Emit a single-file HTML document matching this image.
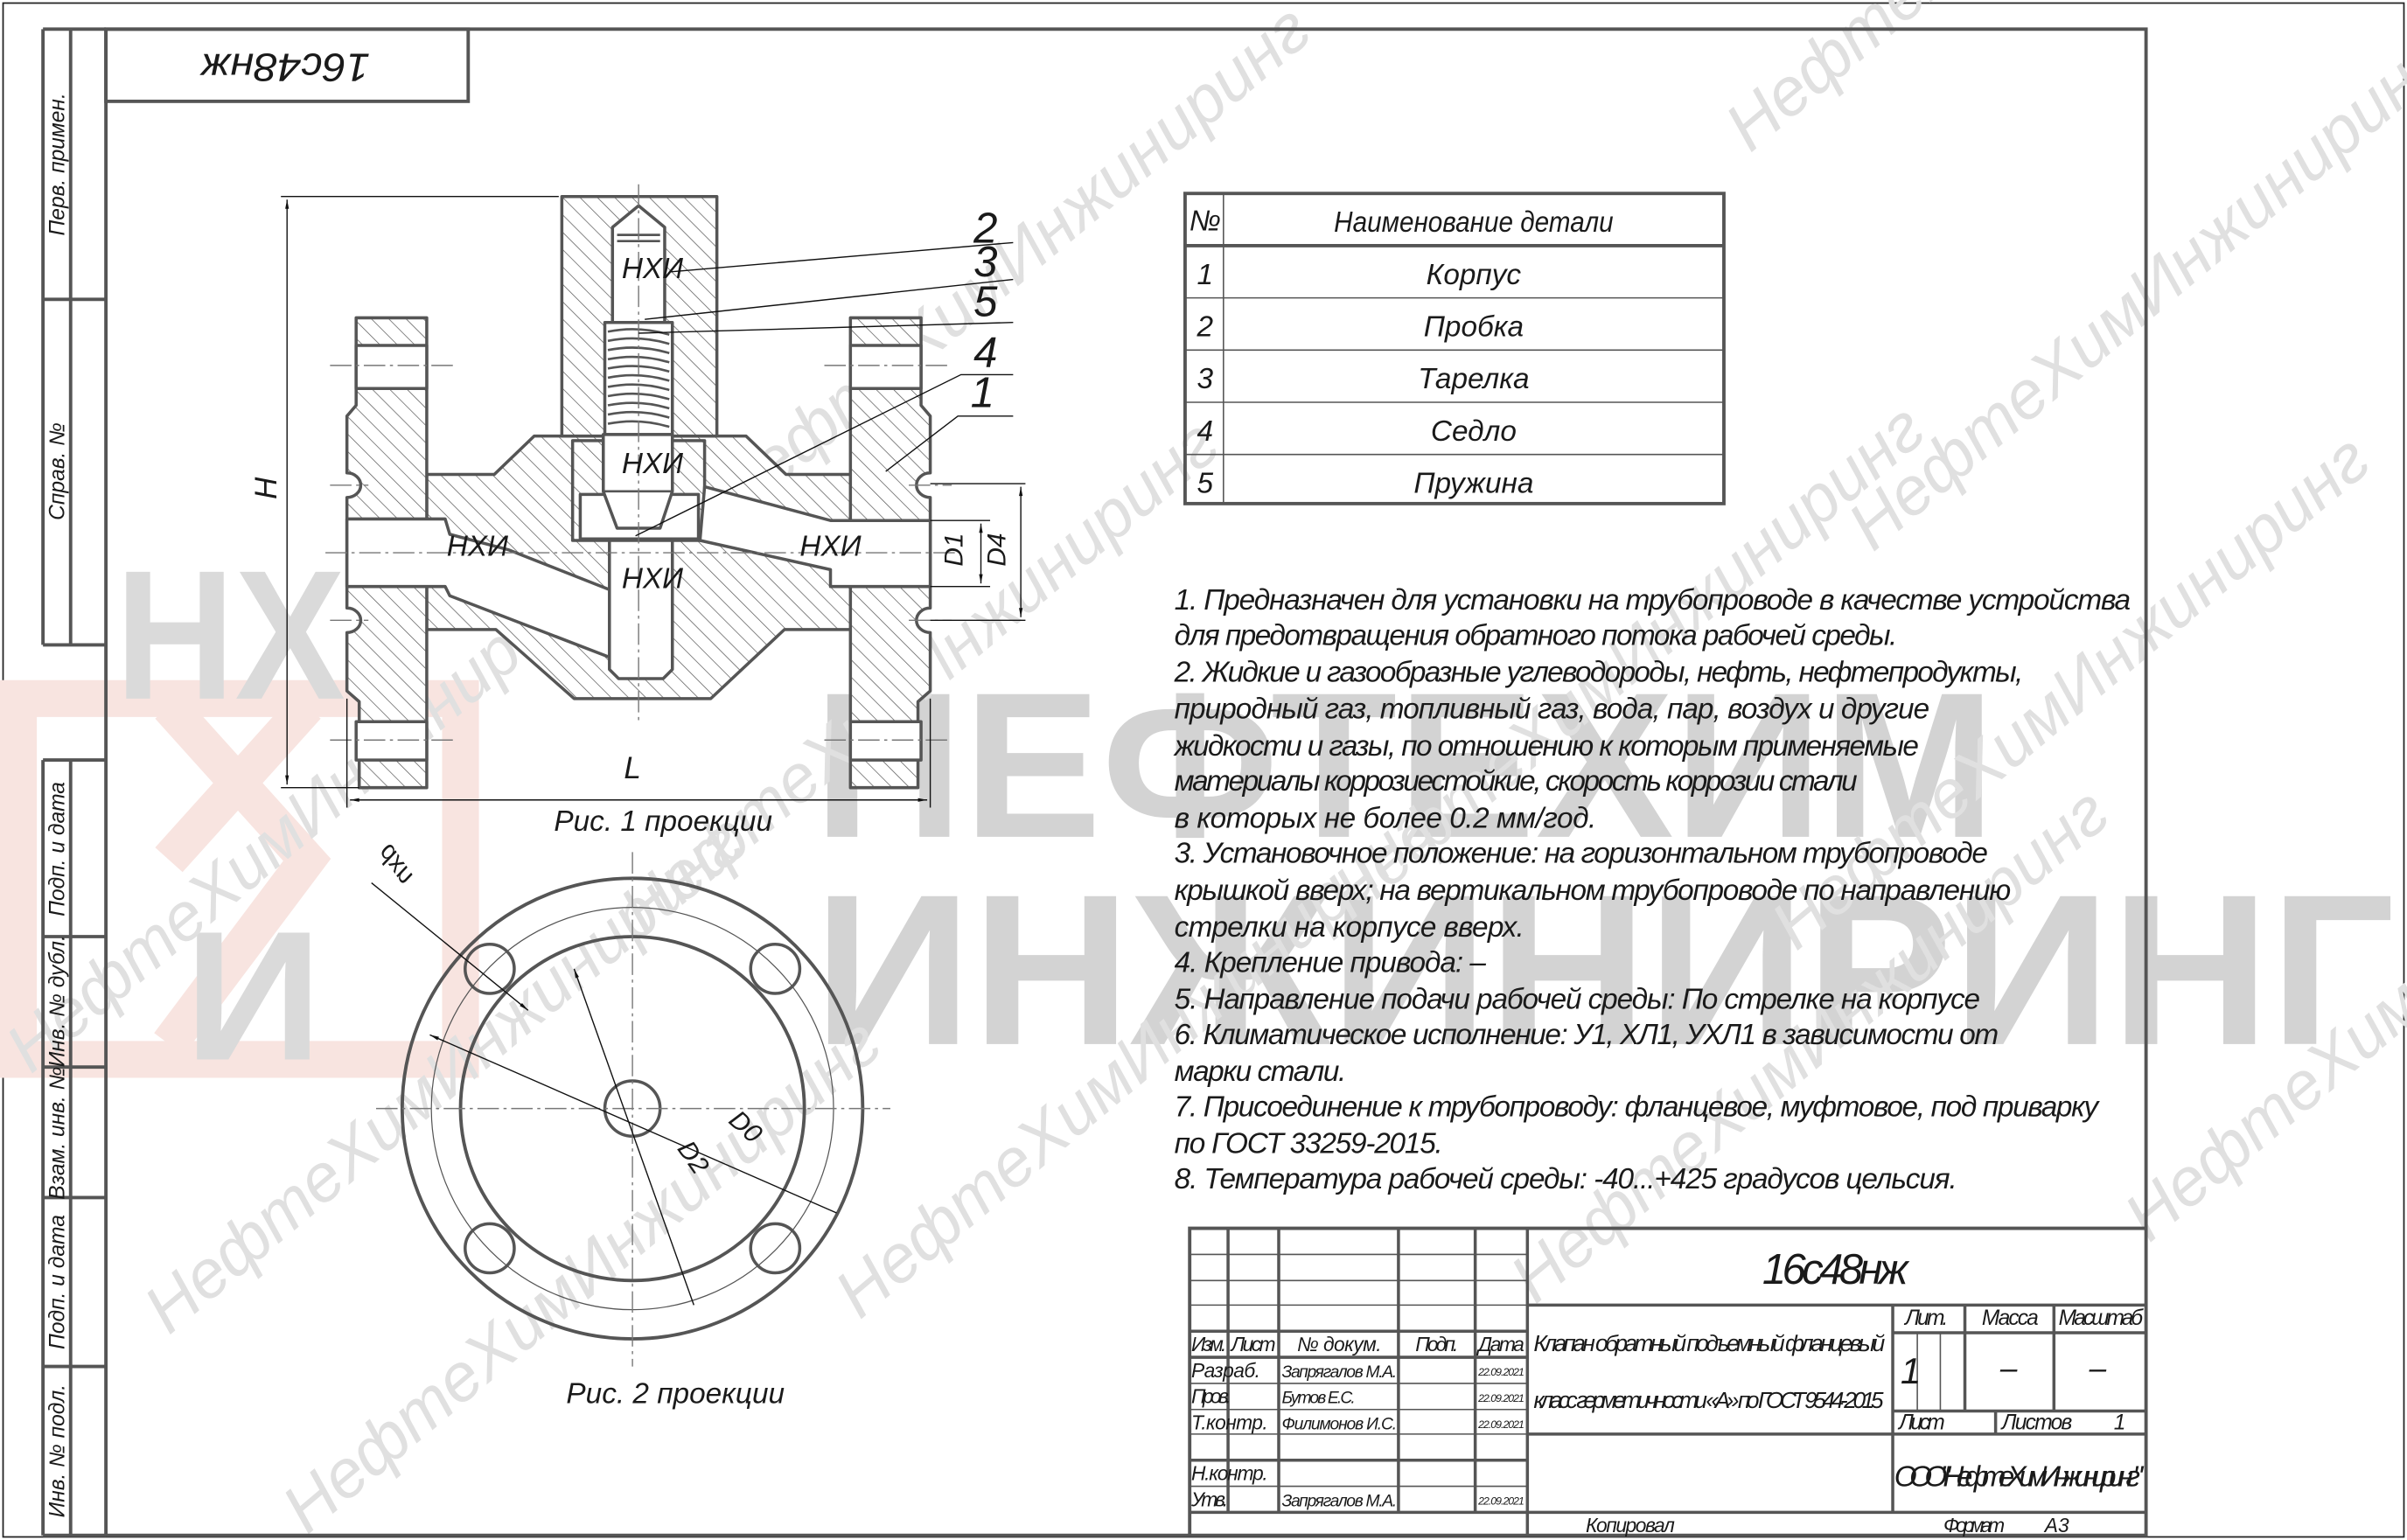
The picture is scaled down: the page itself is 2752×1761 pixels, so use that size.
<!DOCTYPE html>
<html><head><meta charset="utf-8"><style>
html,body{margin:0;padding:0;background:#fff;}
svg{display:block;}
text{font-family:"Liberation Sans","DejaVu Sans",sans-serif;font-style:italic;fill:#1a1a1a;}
.wm{fill:#e0e0e0;font-size:44px;font-style:italic;}
</style></head><body>
<svg width="2752" height="1761" viewBox="0 0 1568 1003" preserveAspectRatio="none" xmlns="http://www.w3.org/2000/svg">
<defs>
<pattern id="h" patternUnits="userSpaceOnUse" width="8" height="8" patternTransform="rotate(-45)">
<rect width="8" height="8" fill="#fff"/><line x1="0" y1="0" x2="0" y2="8" stroke="#555" stroke-width="0.8"/>
</pattern>
<marker id="a" viewBox="0 0 10 10" refX="10" refY="5" markerWidth="10" markerHeight="6" orient="auto-start-reverse" markerUnits="userSpaceOnUse"><path d="M0,3 L10,5 L0,7z" fill="#111"/></marker>
</defs>
<rect width="1568" height="1003" fill="#fff"/>
<rect x="2" y="2" width="1564" height="999" fill="none" stroke="#222" stroke-width="1"/>

<!-- big watermark logo -->
<g>
<text x="530" y="545" font-size="135" font-weight="bold" style="font-style:normal;fill:#d3d3d3" textLength="770" lengthAdjust="spacingAndGlyphs">НЕФТЕХИМ</text>
<text x="530" y="680" font-size="140" font-weight="bold" style="font-style:normal;fill:#d3d3d3" textLength="1030" lengthAdjust="spacingAndGlyphs">ИНЖИНИРИНГ</text>
<path d="M12,455 H300 V690 H12 Z" fill="none" stroke="#f8e4e0" stroke-width="24"/>
<path d="M110,460 L200,560 L110,680 M200,460 L110,560" fill="none" stroke="#f8e4e0" stroke-width="24"/>
<text x="75" y="455" font-size="120" font-weight="bold" style="font-style:normal;fill:#dadada" textLength="150" lengthAdjust="spacingAndGlyphs">НХ</text>
<text x="120" y="690" font-size="120" font-weight="bold" style="font-style:normal;fill:#dadada" textLength="90" lengthAdjust="spacingAndGlyphs">И</text>
</g>
<!-- diagonal watermarks -->
<g>
<text class="wm" transform="translate(110,870) rotate(-40)">НефтеХимИнжиниринг</text>
<text class="wm" transform="translate(20,700) rotate(-40)">НефтеХимИнжиниринг</text>
<text class="wm" transform="translate(420,610) rotate(-40)">НефтеХимИнжиниринг</text>
<text class="wm" transform="translate(480,340) rotate(-40)">НефтеХимИнжиниринг</text>
<text class="wm" transform="translate(200,1000) rotate(-40)">НефтеХимИнжиниринг</text>
<text class="wm" transform="translate(560,860) rotate(-40)">НефтеХимИнжиниринг</text>
<text class="wm" transform="translate(1000,850) rotate(-40)">НефтеХимИнжиниринг</text>
<text class="wm" transform="translate(1170,620) rotate(-40)">НефтеХимИнжиниринг</text>
<text class="wm" transform="translate(1220,360) rotate(-40)">НефтеХимИнжиниринг</text>
<text class="wm" transform="translate(1140,100) rotate(-40)">НефтеХимИнжиниринг</text>
<text class="wm" transform="translate(1400,810) rotate(-40)">НефтеХимИнжиниринг</text>
<text class="wm" transform="translate(880,600) rotate(-40)">НефтеХимИнжиниринг</text>
</g>

<!-- frame -->
<g stroke="#555" stroke-width="2.2" fill="none">
<path d="M69,19 H1398 V1000 H69 Z"/>
<path d="M28,19 V420 M46,19 V420 M28,19 H69 M28,195 H69 M28,420 H69"/>
<path d="M28,495 V1000 M46,495 V1000 M28,495 H69 M28,610 H69 M28,695 H69 M28,780 H69 M28,890 H69 M28,1000 H69"/>
<rect x="69" y="19" width="236" height="47"/>
</g>
<text transform="translate(186,42) rotate(180)" font-size="26" text-anchor="middle" dominant-baseline="middle" textLength="110" lengthAdjust="spacingAndGlyphs">16с48нж</text>
<g font-size="14" text-anchor="middle">
<text transform="translate(42,107) rotate(-90)">Перв. примен.</text>
<text transform="translate(42,307) rotate(-90)">Справ. №</text>
<text transform="translate(42,553) rotate(-90)">Подп. и дата</text>
<text transform="translate(42,652) rotate(-90)">Инв. № дубл.</text>
<text transform="translate(42,738) rotate(-90)">Взам. инв. №</text>
<text transform="translate(42,835) rotate(-90)">Подп. и дата</text>
<text transform="translate(42,945) rotate(-90)">Инв. № подл.</text>
</g>

<!-- VALVE SECTION -->
<g stroke="#555" stroke-width="2" fill="url(#h)" stroke-linejoin="round">
<path d="M278,309 H322 L348,284 H486 L512,309 H555 V410 H511 L463,455 H374 L323,410 H278 Z"/>
<path d="M366,128 H467 V284 H366 Z"/>
<path d="M232,207 H278 V513 H234 V457 L226,450 V412 A9,8 0 0 0 226,396 V324 A9,8 0 0 0 226,308 V271 L232,264 Z"/>
<path d="M600,207 H554 V513 H598 V457 L606,450 V412 A9,8 0 0 1 606,396 V324 A9,8 0 0 1 606,308 V271 L600,264 Z"/>
<path d="M373,287 H459 V352 H373 Z"/>
</g>
<g stroke="#555" stroke-width="2" fill="#fff" stroke-linejoin="round">
<rect x="232" y="225" width="46" height="28"/>
<rect x="554" y="225" width="46" height="28"/>
<rect x="232" y="470" width="46" height="25"/>
<rect x="554" y="470" width="46" height="25"/>
<path d="M226,338 H290 L293,348 L331,358 L397,384 V428 L293,388 L290,382 H226 Z"/>
<path d="M459,317 L541,339 H606 V382 H541 V371 L456,352 Z"/>
<rect x="378" y="322" width="77" height="29"/>
<path d="M397,352 H438 V436 L432,442 H403 L397,436 Z"/>
<path d="M399,148 L416,134 L433,148 V210 H399 Z"/>
<rect x="394" y="210" width="44" height="73"/>
<path d="M393,283 H438 V320 L430,344 H402 L393,320 Z"/>
</g>
<g stroke="#555" stroke-width="1.5" fill="none">
<path d="M402,153 H430 M402,157 H430"/>
<path d="M396,216 Q416,212 436,218 M396,222 Q416,218 436,224 M396,228 Q416,224 436,230 M396,234 Q416,230 436,236 M396,240 Q416,236 436,242 M396,246 Q416,242 436,248 M396,252 Q416,248 436,254 M396,258 Q416,254 436,260 M396,264 Q416,260 436,266 M396,270 Q416,266 436,272 M396,276 Q416,272 436,278"/>
<path d="M393,320 H438"/>
</g>
<g stroke="#777" stroke-width="0.8" stroke-dasharray="14,3,2,3" fill="none">
<path d="M416,120 V470"/>
<path d="M212,360 H625"/>
<path d="M215,238 H295 M537,238 H618 M215,482 H295 M537,482 H618"/>
<path d="M215,316 H240 M592,316 H620 M215,404 H240 M592,404 H620"/>
</g>
<g font-size="19" text-anchor="middle">
<text x="425" y="181">НХИ</text>
<text x="425" y="308">НХИ</text>
<text x="425" y="383">НХИ</text>
<text x="311" y="362">НХИ</text>
<text x="541" y="362">НХИ</text>
</g>
<g stroke="#111" stroke-width="0.8" fill="none">
<path d="M437,177 L660,158"/>
<path d="M420,208 L660,182"/>
<path d="M416,217 L660,210"/>
<path d="M414,349 L626,244 H660"/>
<path d="M577,307 L624,271 H660"/>
</g>
<g font-size="28" text-anchor="middle">
<text x="642" y="158">2</text>
<text x="642" y="180">3</text>
<text x="642" y="206">5</text>
<text x="642" y="239">4</text>
<text x="640" y="265">1</text>
</g>
<g stroke="#111" stroke-width="0.8" fill="none">
<path d="M183,128 H364 M183,513 H234 M606,315 H668 M606,339 H645 M606,382 H645 M606,404 H668 M226,455 V526 M606,455 V526"/>
<path d="M187,130 V511" marker-start="url(#a)" marker-end="url(#a)"/>
<path d="M228,521 H604" marker-start="url(#a)" marker-end="url(#a)"/>
<path d="M639,341 V380" marker-start="url(#a)" marker-end="url(#a)"/>
<path d="M665,317 V402" marker-start="url(#a)" marker-end="url(#a)"/>
</g>
<text transform="translate(180,318) rotate(-90)" font-size="20" text-anchor="middle">H</text>
<text x="412" y="507" font-size="20" text-anchor="middle">L</text>
<text transform="translate(627,358) rotate(-90)" font-size="17" text-anchor="middle">D1</text>
<text transform="translate(655,358) rotate(-90)" font-size="17" text-anchor="middle">D4</text>
<text x="432" y="541" font-size="19" text-anchor="middle">Рис. 1 проекции</text>

<!-- FLANGE VIEW -->
<g stroke="#555" fill="none">
<circle cx="412" cy="722" r="150" stroke-width="2.2"/>
<circle cx="412" cy="722" r="131" stroke-width="0.7"/>
<circle cx="412" cy="722" r="112" stroke-width="2.2"/>
<circle cx="412" cy="722" r="18" stroke-width="2"/>
<circle cx="319" cy="631" r="16" stroke-width="2"/>
<circle cx="505" cy="631" r="16" stroke-width="2"/>
<circle cx="319" cy="813" r="16" stroke-width="2"/>
<circle cx="505" cy="813" r="16" stroke-width="2"/>
</g>
<g stroke="#777" stroke-width="0.8" stroke-dasharray="14,3,2,3">
<path d="M245,722 H580 M412,555 V890"/>
</g>
<g stroke="#111" stroke-width="0.8" fill="none">
<path d="M242,575 L344,658" marker-end="url(#a)"/>
<path d="M280,674 L545,790" marker-start="url(#a)"/>
<path d="M374,631 L452,850" marker-start="url(#a)"/>
</g>
<text transform="translate(262,560) rotate(-125) scale(-1,1)" font-size="17" text-anchor="middle">dxn</text>
<text transform="translate(482,738) rotate(42)" font-size="17" text-anchor="middle">D0</text>
<text transform="translate(447,757) rotate(55)" font-size="17" text-anchor="middle">D2</text>
<text x="440" y="914" font-size="19" text-anchor="middle">Рис. 2 проекции</text>

<!-- PARTS TABLE -->
<g stroke="#555" fill="none">
<rect x="772" y="126" width="351" height="202" stroke-width="2.2"/>
<path d="M772,160 H1123" stroke-width="2.2"/>
<path d="M797,126 V328 M772,194 H1123 M772,228 H1123 M772,262 H1123 M772,296 H1123" stroke-width="0.9"/>
</g>
<g font-size="19" text-anchor="middle">
<text x="785" y="150">№</text><text x="960" y="151" textLength="182" lengthAdjust="spacingAndGlyphs">Наименование детали</text>
<text x="785" y="185">1</text><text x="960" y="185">Корпус</text>
<text x="785" y="219">2</text><text x="960" y="219">Пробка</text>
<text x="785" y="253">3</text><text x="960" y="253">Тарелка</text>
<text x="785" y="287">4</text><text x="960" y="287">Седло</text>
<text x="785" y="321">5</text><text x="960" y="321">Пружина</text>
</g>

<!-- NOTES -->
<g font-size="19" lengthAdjust="spacingAndGlyphs">
<text x="765" y="397" textLength="623">1. Предназначен для установки на трубопроводе в качестве устройства</text>
<text x="765" y="420" textLength="471">для предотвращения обратного потока рабочей среды.</text>
<text x="765" y="444" textLength="553">2. Жидкие и газообразные углеводороды, нефть, нефтепродукты,</text>
<text x="765" y="468" textLength="492">природный газ, топливный газ, вода, пар, воздух и другие</text>
<text x="765" y="492" textLength="485">жидкости и газы, по отношению к которым применяемые</text>
<text x="765" y="515" textLength="445">материалы коррозиестойкие, скорость коррозии стали</text>
<text x="765" y="539" textLength="275">в которых не более 0.2 мм/год.</text>
<text x="765" y="562" textLength="530">3. Установочное положение: на горизонтальном трубопроводе</text>
<text x="765" y="586" textLength="545">крышкой вверх; на вертикальном трубопроводе по направлению</text>
<text x="765" y="610" textLength="228">стрелки на корпусе вверх.</text>
<text x="765" y="633" textLength="203">4. Крепление привода: –</text>
<text x="765" y="657" textLength="525">5. Направление подачи рабочей среды: По стрелке на корпусе</text>
<text x="765" y="680" textLength="537">6. Климатическое исполнение: У1, ХЛ1, УХЛ1 в зависимости от</text>
<text x="765" y="704" textLength="112">марки стали.</text>
<text x="765" y="727" textLength="602">7. Присоединение к трубопроводу: фланцевое, муфтовое, под приварку</text>
<text x="765" y="751" textLength="175">по ГОСТ 33259-2015.</text>
<text x="765" y="774" textLength="510">8. Температура рабочей среды: -40...+425 градусов цельсия.</text>
</g>

<!-- TITLE BLOCK -->
<g stroke="#555" fill="none">
<path d="M775,1000 V800 H1398" stroke-width="2.2"/>
<path d="M800,800 V985 M833,800 V985 M911,800 V985 M961,800 V985 M995,800 V1000" stroke-width="2"/>
<path d="M775,867 H995 M775,884 H995 M775,951 H995 M775,985 H1398 M995,850 H1398 M1233,850 V985 M1233,868 H1398 M1233,919 H1398 M995,934 H1398 M1280,850 V919 M1338,850 V919 M1300,919 V934" stroke-width="2"/>
<path d="M775,817 H995 M775,834 H995 M775,850 H995 M775,901 H995 M775,918 H995 M775,934 H995 M775,968 H995 M1249,868 V919 M1264,868 V919" stroke-width="0.9"/>
</g>
<g font-size="13" lengthAdjust="spacingAndGlyphs">
<text x="776" y="880" textLength="23">Изм.</text><text x="802" y="880" textLength="29">Лист</text>
<text x="845" y="880" textLength="55">№ докум.</text><text x="922" y="880" textLength="28">Подп.</text><text x="963" y="880" textLength="30">Дата</text>
<text x="776" y="897" textLength="45">Разраб.</text><text x="835" y="897" font-size="11" textLength="75">Запрягалов М.А.</text>
<text x="776" y="914" textLength="26">Пров.</text><text x="835" y="914" font-size="11" textLength="48">Бутов Е.С.</text>
<text x="776" y="931" textLength="50">Т.контр.</text><text x="835" y="931" font-size="11" textLength="75">Филимонов И.С.</text>
<text x="776" y="964" textLength="50">Н.контр.</text>
<text x="776" y="981" textLength="24">Утв.</text><text x="835" y="981" font-size="11" textLength="75">Запрягалов М.А.</text>
<text x="963" y="896" font-size="7" textLength="30">22.09.2021</text>
<text x="963" y="913" font-size="7" textLength="30">22.09.2021</text>
<text x="963" y="930" font-size="7" textLength="30">22.09.2021</text>
<text x="963" y="980" font-size="7" textLength="30">22.09.2021</text>
<text x="1148" y="836" font-size="28" textLength="95">16с48нж</text>
<text x="999" y="880" font-size="15" textLength="229">Клапан обратный подъемный фланцевый</text>
<text x="999" y="917" font-size="15" textLength="228">класс герметичности «А» по ГОСТ 9544-2015</text>
<text x="1241" y="863" font-size="14" textLength="28">Лит.</text>
<text x="1291" y="863" font-size="14" textLength="37">Масса</text>
<text x="1341" y="863" font-size="14" textLength="55">Масштаб</text>
<text x="1238" y="901" font-size="24">1</text>
<text x="1303" y="898" font-size="20">–</text>
<text x="1361" y="898" font-size="20">–</text>
<text x="1237" y="931" font-size="14" textLength="30">Лист</text>
<text x="1304" y="931" font-size="14" textLength="46">Листов</text>
<text x="1377" y="931" font-size="14">1</text>
<text x="1234" y="968" font-size="19" textLength="162">ООО "НефтеХимИнжиниринг"</text>
<text x="1033" y="998" font-size="13" textLength="58">Копировал</text>
<text x="1266" y="998" font-size="13" textLength="40">Формат</text>
<text x="1332" y="998" font-size="13">А3</text>
</g>
</svg>
</body></html>
